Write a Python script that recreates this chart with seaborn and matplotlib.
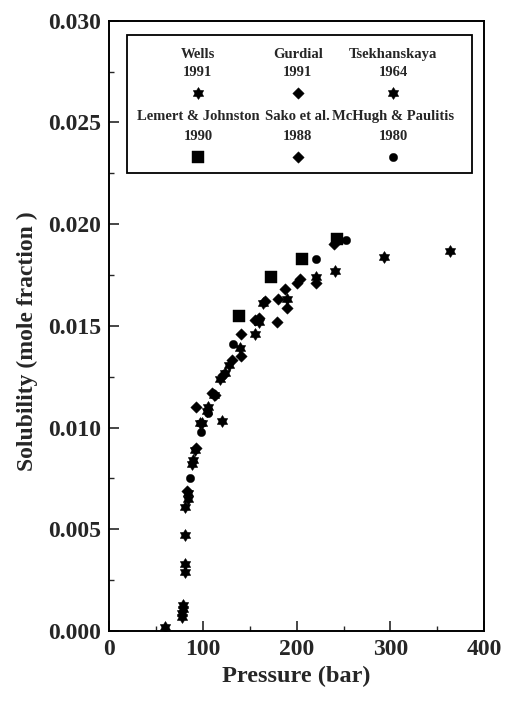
import numpy as np
import pandas as pd
import matplotlib
matplotlib.use("Agg")
import matplotlib.pyplot as plt
from matplotlib.patches import Rectangle
from matplotlib.ticker import MultipleLocator, FormatStrFormatter
import seaborn as sns

# ---- data: pressure (bar) and solubility (mole fraction) per source ----
wells_p = [77, 77.5, 78, 78.5, 80.5, 80.5, 80.5, 80.5, 83.7, 83.7, 88, 89, 91, 99, 104]
wells_y = [0.0007, 0.0009, 0.0011, 0.0013, 0.0029, 0.0033, 0.0047, 0.0061,
           0.0065, 0.0068, 0.0082, 0.0084, 0.0089, 0.0102, 0.0108]

tsek_p = [59, 97, 105, 112, 118, 120, 123, 128, 139, 155, 160, 164, 190, 221, 241, 293, 364]
tsek_y = [0.0002, 0.0102, 0.0110, 0.0116, 0.0124, 0.0103, 0.0127, 0.0131, 0.0139,
          0.0146, 0.0152, 0.0161, 0.0163, 0.0174, 0.0177, 0.0184, 0.0187]

gurdial_p = [83, 92, 110, 121, 141, 155, 166, 180, 190, 203, 221, 240]
gurdial_y = [0.0069, 0.0090, 0.0117, 0.0126, 0.0135, 0.0153, 0.0162, 0.0163,
             0.0159, 0.0173, 0.0171, 0.0190]

sako_p = [92, 113, 131, 141, 160, 179, 187, 200]
sako_y = [0.0110, 0.0116, 0.0133, 0.0146, 0.0154, 0.0152, 0.0168, 0.0171]

lemert_p = [138, 173, 206, 243]
lemert_y = [0.01547, 0.01739, 0.01828, 0.01926]

mchugh_p = [86, 97.5, 105, 132, 221, 253]
mchugh_y = [0.0075, 0.0098, 0.0107, 0.0141, 0.0183, 0.0192]

sources = ["Wells", "Gurdial", "Tsekhanskaya", "Lemert & Johnston", "Sako et al.", "McHugh & Paulitis"]
years = ["1991", "1991", "1964", "1990", "1988", "1980"]

# ---- style ----
sns.set_style("ticks")
plt.rcParams["font.family"] = ["Liberation Serif", "DejaVu Serif"]
plt.rcParams["font.weight"] = "bold"

# six-pointed star marker
ang = np.deg2rad(np.arange(12) * 30 + 90)
rad = np.where(np.arange(12) % 2 == 0, 1.0, 0.62)
star = list(zip(rad * np.cos(ang), rad * np.sin(ang)))
star.append(star[0])

markers = {"star": star, "diamond": "D", "square": "s", "circle": "o"}
sizes = {"star": 75, "diamond": 34, "square": 78, "circle": 36}

series = [
    (wells_p, wells_y, "star"),
    (gurdial_p, gurdial_y, "diamond"),
    (tsek_p, tsek_y, "star"),
    (lemert_p, lemert_y, "square"),
    (sako_p, sako_y, "diamond"),
    (mchugh_p, mchugh_y, "circle"),
]

fig = plt.figure(figsize=(5.05, 7.01), dpi=100)
ax = fig.add_axes([0.2168, 0.0999, 0.7416, 0.8705])

for (p, y, kind), name in zip(series, sources):
    df = pd.DataFrame({"Pressure": p, "Solubility": y})
    sns.scatterplot(data=df, x="Pressure", y="Solubility", ax=ax,
                    marker=markers[kind], s=sizes[kind], color="black",
                    edgecolor="black", linewidth=0.3, zorder=3)

ax.set_xlim(0, 400)
ax.set_ylim(0, 0.030)
ax.xaxis.set_major_locator(MultipleLocator(100))
ax.xaxis.set_minor_locator(MultipleLocator(50))
ax.yaxis.set_major_locator(MultipleLocator(0.005))
ax.yaxis.set_minor_locator(MultipleLocator(0.0025))
ax.yaxis.set_major_formatter(FormatStrFormatter("%.3f"))
ax.tick_params(which="major", direction="in", length=7, width=1.2,
               labelsize=17, pad=6)
ax.tick_params(which="minor", direction="in", length=3.5, width=1.0)
for lab in ax.get_xticklabels() + ax.get_yticklabels():
    lab.set_fontweight("bold")
for sp in ax.spines.values():
    sp.set_visible(True)
    sp.set_linewidth(1.4)
    sp.set_color("black")

ax.set_xlabel("Pressure (bar)", fontsize=17.5, fontweight="bold", labelpad=4)
ax.set_ylabel("Solubility (mole fraction )", fontsize=17, fontweight="bold")
ax.yaxis.set_label_coords(-0.19, 0.475)

# ---- legend box: name, year and marker stacked in three columns ----
ax.add_patch(Rectangle((0.047, 0.751), 0.921, 0.226, transform=ax.transAxes,
                       fill=False, edgecolor="black", linewidth=1.3, zorder=4))
col_x = [0.236, 0.503, 0.757]
row_name = [0.944, 0.843]
row_year = [0.915, 0.810]
row_mark = [0.882, 0.777]
for i, ((p, y, kind), name, yr) in enumerate(zip(series, sources, years)):
    r, c = divmod(i, 3)
    ax.text(col_x[c], row_name[r], name, transform=ax.transAxes, ha="center",
            va="center", fontsize=10.5, fontweight="bold")
    ax.text(col_x[c], row_year[r], yr, transform=ax.transAxes, ha="center",
            va="center", fontsize=10.5, fontweight="bold")
    ax.scatter([col_x[c]], [row_mark[r]], transform=ax.transAxes,
               marker=markers[kind], s=sizes[kind], color="black",
               linewidth=0.3, zorder=5, clip_on=False)

fig.savefig("out.png", dpi=100, facecolor="white")
